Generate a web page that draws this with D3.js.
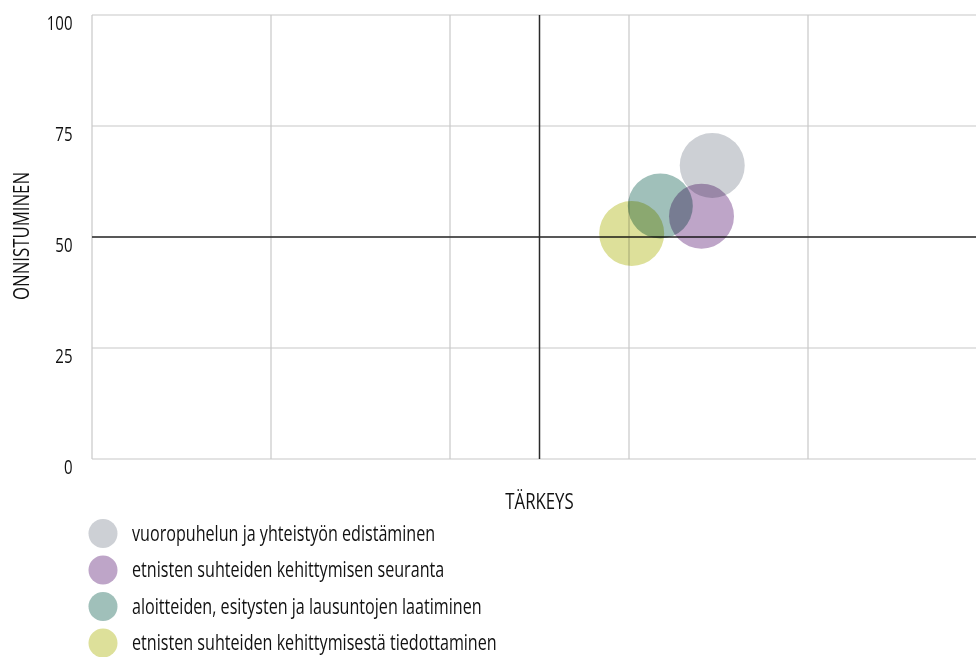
<!DOCTYPE html>
<html><head><meta charset="utf-8">
<script src="https://cdn.jsdelivr.net/npm/d3@7"></script>
<style>
body{margin:0;background:#fff;}
svg{display:block;font-family:"Open Sans","Noto Sans",sans-serif;}
.bubble{mix-blend-mode:multiply;}
</style></head>
<body>
<svg id="chart" width="976" height="657"></svg>
<script>
const categories = [
  "vuoropuhelun ja yhteistyön edistäminen",
  "etnisten suhteiden kehittymisen seuranta",
  "aloitteiden, esitysten ja lausuntojen laatiminen",
  "etnisten suhteiden kehittymisestä tiedottaminen"
];
const importance = [69.3, 68.1, 63.5, 60.3];   // TÄRKEYS
const success = [66.1, 54.7, 57.0, 50.8];      // ONNISTUMINEN
const colors = ["#cdd0d5", "#bea5c8", "#a0c0ba", "#dde09a"];
const yTicks = [0, 25, 50, 75, 100];
const xTicks = [0, 20, 40, 60, 80, 100];

const SQ = "scale(0.75,1)"; // condensed look

const svg = d3.select("#chart");
const x = d3.scaleLinear().domain([0, 100]).range([92, 987]);
const y = d3.scaleLinear().domain([0, 100]).range([459, 15]);

const g = svg.append("g");
g.selectAll(".hg").data(yTicks).join("line")
  .attr("x1", x(0)).attr("x2", 976)
  .attr("y1", d => y(d)).attr("y2", d => y(d))
  .attr("stroke", "#c8c8c8").attr("stroke-width", 1.2);
g.selectAll(".vg").data(xTicks).join("line")
  .attr("x1", d => x(d)).attr("x2", d => x(d))
  .attr("y1", y(100)).attr("y2", y(0))
  .attr("stroke", "#c8c8c8").attr("stroke-width", 1.2);

// y axis labels
const yAxis = d3.axisLeft(y).tickValues(yTicks).tickSize(0).tickPadding(0);
const ya = svg.append("g").attr("transform", "translate(72.5,0)").call(yAxis);
ya.select(".domain").remove();
ya.selectAll("text").attr("font-size", 20).attr("fill", "#111")
  .attr("font-family", "Open Sans, sans-serif")
  .attr("x", 0).attr("dy", "0.72em").attr("transform", SQ);

// quadrant lines
svg.append("line").attr("x1", x(0)).attr("x2", 976).attr("y1", y(50)).attr("y2", y(50))
  .attr("stroke", "#2a2a2a").attr("stroke-width", 1.5);
svg.append("line").attr("x1", x(50)).attr("x2", x(50)).attr("y1", y(100)).attr("y2", y(0))
  .attr("stroke", "#2a2a2a").attr("stroke-width", 1.5);

// bubbles
const data = categories.map((c, i) => ({c, x: importance[i], y: success[i], col: colors[i]}));
svg.append("g").selectAll("circle").data(data).join("circle")
  .attr("class", "bubble")
  .attr("cx", d => x(d.x)).attr("cy", d => y(d.y)).attr("r", 32.5)
  .attr("fill", d => d.col);

// axis titles
svg.append("g").attr("transform", `translate(${x(50)},509) ${SQ}`)
  .append("text").attr("text-anchor", "middle")
  .attr("font-size", 22.4).attr("fill", "#111").text("TÄRKEYS");
svg.append("g").attr("transform", `translate(29,236) rotate(-90) ${SQ}`)
  .append("text").attr("text-anchor", "middle")
  .attr("font-size", 22.4).attr("fill", "#111").text("ONNISTUMINEN");

// legend
const lg = svg.append("g").selectAll("g").data(data).join("g")
  .attr("transform", (d, i) => `translate(103,${533.5 + i * 36.5})`);
lg.append("circle").attr("r", 14.5).attr("fill", d => d.col);
lg.append("g").attr("transform", `translate(29,7.3) ${SQ}`)
  .append("text").attr("font-size", 21.5).attr("fill", "#111")
  .text(d => d.c);
</script>
</body></html>
